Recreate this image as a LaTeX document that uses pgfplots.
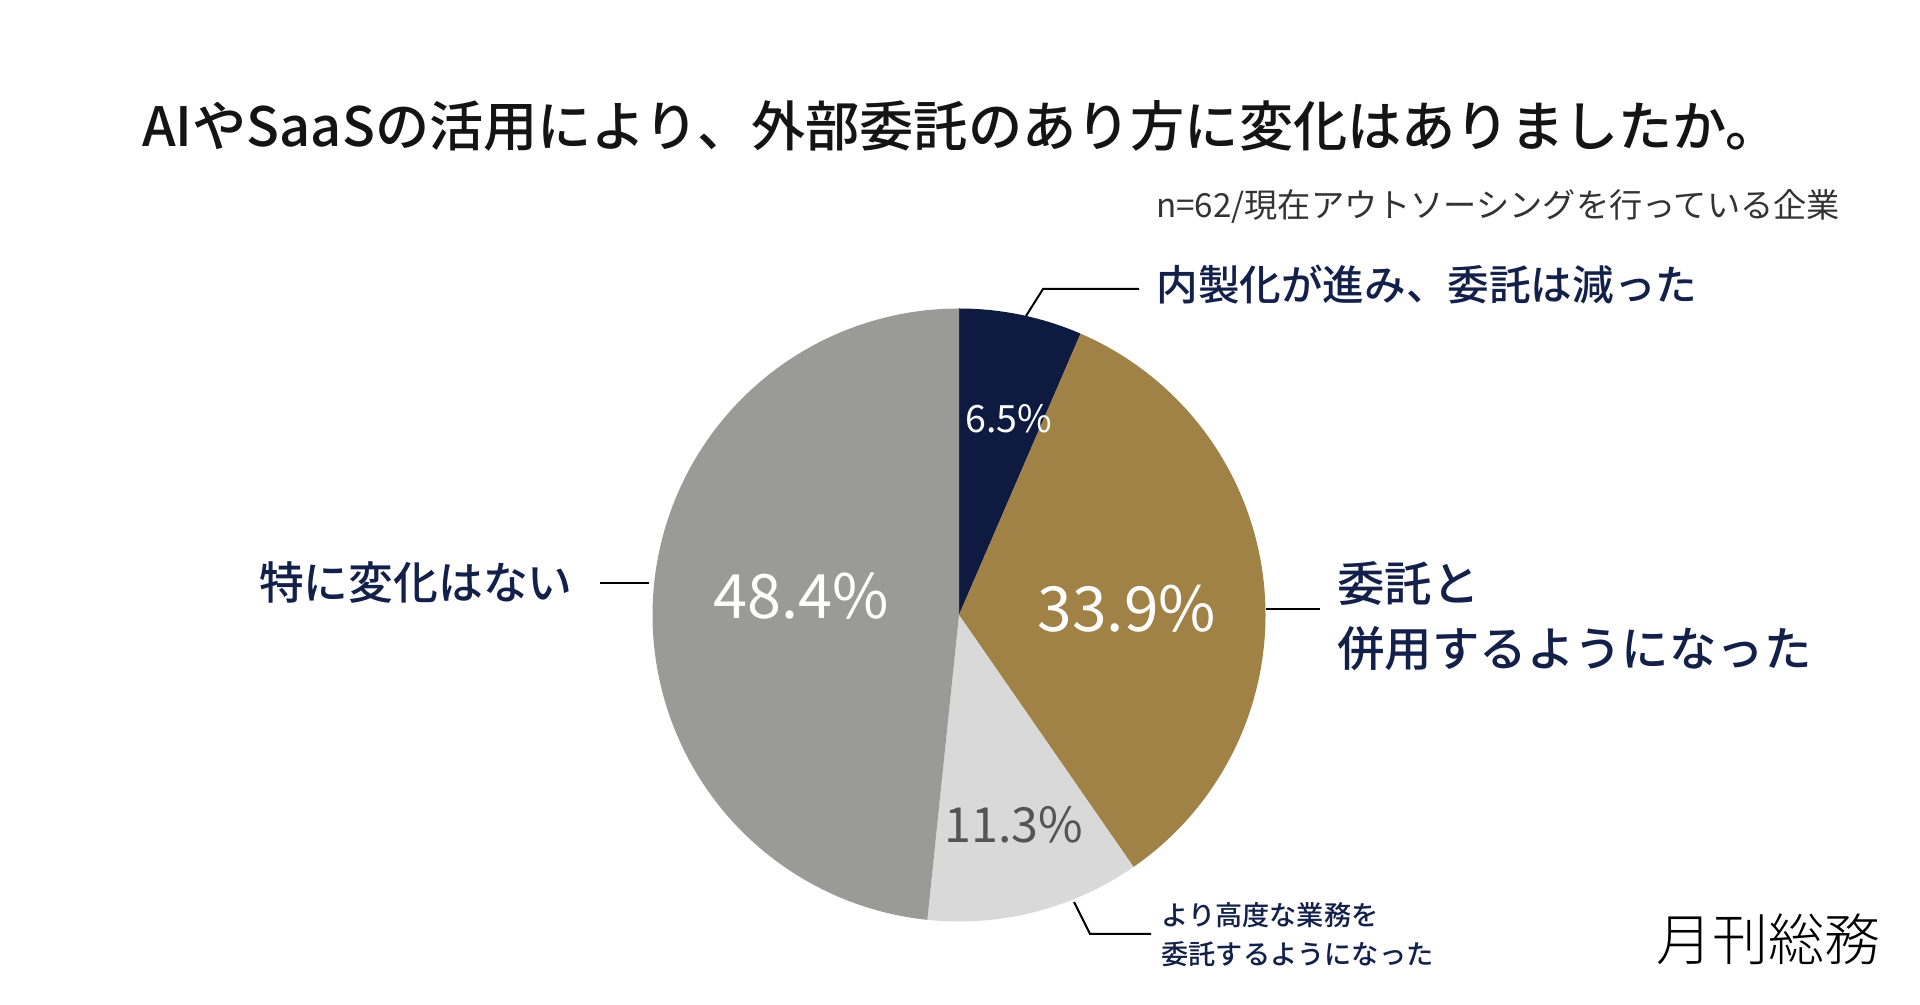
\documentclass[border=0pt]{standalone}
\usepackage{pgfplots}
\pgfplotsset{compat=1.18}
\usepackage{fontspec}
\setmainfont{Noto Sans CJK JP}
\newfontfamily\medium{Noto Sans CJK JP Medium}
\newfontfamily\light{Noto Sans CJK JP Light}
\definecolor{navy}{HTML}{0F1A40}
\definecolor{gold}{HTML}{A08146}
\definecolor{lgray}{HTML}{D9D9D9}
\definecolor{mgray}{HTML}{9A9B98}
\definecolor{txtnavy}{HTML}{13204A}
\definecolor{darktxt}{HTML}{555555}
% data (percent)
\def\vA{6.5}  % 内製化が進み、委託は減った
\def\vB{33.9} % 委託と併用するようになった
\def\vC{11.3} % より高度な業務を委託するようになった
\def\vD{48.4} % 特に変化はない
\def\cx{959}
\def\cy{390}
\def\R{306.5}
\begin{document}
\begin{tikzpicture}
\pgfmathsetmacro\k{360/(\vA+\vB+\vC+\vD)}
\pgfmathsetmacro\aA{90}
\pgfmathsetmacro\aB{90-\vA*\k}
\pgfmathsetmacro\aC{\aB-\vB*\k}
\pgfmathsetmacro\aD{\aC-\vC*\k}
\pgfmathsetmacro\aE{-270}
\begin{axis}[
  scale only axis, width=960pt, height=502.5pt,
  xmin=0, xmax=1920, ymin=0, ymax=1005,
  hide axis, clip=false,
  trig format plots=deg,
]
\fill[white] (axis cs:0,0) rectangle (axis cs:1920,1005);
\addplot[fill=navy, draw=none, domain=\aB:\aA, samples=40, variable=\t] ({\cx+\R*cos(\t)}, {\cy+\R*sin(\t)}) -- (axis cs:\cx,\cy) -- cycle;
\addplot[fill=gold, draw=none, domain=\aC:\aB, samples=120, variable=\t] ({\cx+\R*cos(\t)}, {\cy+\R*sin(\t)}) -- (axis cs:\cx,\cy) -- cycle;
\addplot[fill=lgray, draw=none, domain=\aD:\aC, samples=60, variable=\t] ({\cx+\R*cos(\t)}, {\cy+\R*sin(\t)}) -- (axis cs:\cx,\cy) -- cycle;
\addplot[fill=mgray, draw=none, domain=\aE:\aD, samples=160, variable=\t] ({\cx+\R*cos(\t)}, {\cy+\R*sin(\t)}) -- (axis cs:\cx,\cy) -- cycle;

% title
\node[font=\medium\fontsize{27.1pt}{30pt}\selectfont, text=black!92] at (axis cs:961,879) {AIやSaaSの活用により、外部委託のあり方に変化はありましたか。};
\node[anchor=east, font=\fontsize{16.6pt}{20pt}\selectfont, text=black!80] at (axis cs:1847,799) {n=62/現在アウトソーシングを行っている企業};

% percentages
\node[text=white, font=\fontsize{18.8pt}{22pt}\selectfont] at (axis cs:1009,586) {6.5\%};
\node[text=white, font=\fontsize{31.1pt}{36pt}\selectfont] at (axis cs:1127,396) {33.9\%};
\node[text=darktxt, font=\fontsize{24.2pt}{28pt}\selectfont] at (axis cs:1014,180) {11.3\%};
\node[text=white, font=\fontsize{30.6pt}{36pt}\selectfont] at (axis cs:801,409) {48.4\%};

% leaders
\draw[black, line width=1pt] (axis cs:1026,689) -- (axis cs:1043,716) -- (axis cs:1139,716);
\draw[black, line width=1pt] (axis cs:1266,396) -- (axis cs:1320,396);
\draw[black, line width=1pt] (axis cs:600,422) -- (axis cs:649,422);
\draw[black, line width=1pt] (axis cs:1074,103) -- (axis cs:1090,71) -- (axis cs:1151,71);

% category labels
\node[anchor=west, text=txtnavy, font=\medium\fontsize{20.8pt}{24pt}\selectfont, inner sep=0pt] at (axis cs:1156,720) {内製化が進み、委託は減った};
\node[anchor=west, text=txtnavy, font=\medium\fontsize{23.7pt}{28pt}\selectfont, inner sep=0pt] at (axis cs:1337,421) {委託と};
\node[anchor=west, text=txtnavy, font=\medium\fontsize{23.7pt}{28pt}\selectfont, inner sep=0pt] at (axis cs:1337,356) {併用するようになった};
\node[anchor=east, text=txtnavy, font=\medium\fontsize{22.4pt}{26pt}\selectfont, inner sep=0pt] at (axis cs:573,422) {特に変化はない};
\node[anchor=west, text=txtnavy, font=\medium\fontsize{13.6pt}{16pt}\selectfont, inner sep=0pt] at (axis cs:1161,90) {より高度な業務を};
\node[anchor=west, text=txtnavy, font=\medium\fontsize{13.6pt}{16pt}\selectfont, inner sep=0pt] at (axis cs:1161,51) {委託するようになった};

% logo
\node[text=black, font=\light\fontsize{28pt}{32pt}\selectfont, inner sep=0pt] at (axis cs:1768,66) {月刊総務};
\end{axis}
\end{tikzpicture}
\end{document}
